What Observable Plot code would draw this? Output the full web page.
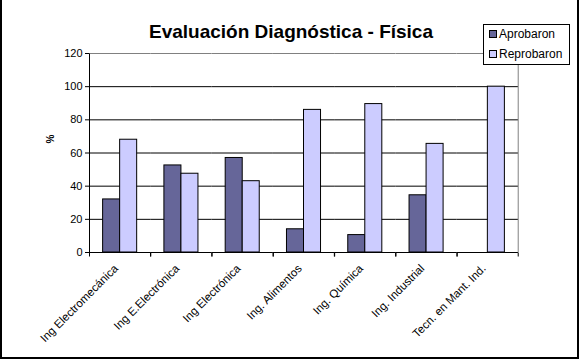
<!DOCTYPE html>
<html>
<head>
<meta charset="utf-8">
<script src="https://cdn.jsdelivr.net/npm/d3@7"></script>
<script src="https://cdn.jsdelivr.net/npm/@observablehq/plot@0.6"></script>
<style>
  html, body { margin: 0; padding: 0; background: #fff; }
  #chart { position: relative; width: 581px; height: 361px; overflow: hidden; font-family: "Liberation Sans", Arial, sans-serif; color: #000; }
  #chart svg { position: absolute; left: 0; top: 0; }
  .ov { position: absolute; }
  #title { left: 0; width: 582px; text-align: center; top: 22px; font-size: 19px; font-weight: bold; line-height: 19px; white-space: nowrap; }
  #legend { left: 483px; top: 24px; width: 87px; height: 41px; box-sizing: border-box; border: 1px solid #000; background: #fff; font-size: 12px; }
  .li { position: absolute; left: 5px; height: 14px; line-height: 14px; white-space: nowrap; }
  .sw { display: inline-block; width: 6px; height: 6px; border: 1px solid #000; margin-right: 2px; vertical-align: 0px; }
  #ylab { left: 44px; top: 133px; width: 14px; height: 12px; font-size: 10px; font-weight: bold; line-height: 12px; text-align: center; transform: rotate(-90deg); }
  .bd { position: absolute; background: #000; }
</style>
</head>
<body>
<div id="chart"></div>
<script>
const titleText = "Evaluación Diagnóstica - Física";
const categories = ["Ing Electromecánica", "Ing E.Electrónica", "Ing Electrónica", "Ing. Alimentos", "Ing. Química", "Ing. Industrial", "Tecn. en Mant. Ind."];
const seriesNames = ["Aprobaron", "Reprobaron"];
const aprobaron = [32, 52.5, 57, 14, 10.5, 34.5, 0];
const reprobaron = [68, 47.5, 43, 86, 89.5, 65.5, 100];
const yTicks = [0, 20, 40, 60, 80, 100, 120];
const colors = ["#666699", "#CCCCFF"];

const data = [];
categories.forEach((c, i) => {
  data.push({cat: c, series: seriesNames[0], value: aprobaron[i]});
  data.push({cat: c, series: seriesNames[1], value: reprobaron[i]});
});

// category boundary ticks, left axis line and right frame line, per facet
const edgeMark = Plot.ruleY(categories, {
  fx: d => d,
  y: () => 0,
  render(index, scales) {
    const g = d3.create("svg:g");
    if (!index.length) return g.node();
    const k = index[0];
    const [xa, xb] = scales.x.range();
    const y0 = Math.round(scales.y(0)) + 0.5;
    const yTop = Math.round(scales.y(yTicks[yTicks.length - 1])) + 0.5;
    const xl = Math.round(xa) + 0.5, xr = Math.round(xb) + 0.5;
    g.append("line").attr("x1", xl).attr("x2", xl).attr("y1", y0).attr("y2", y0 + 4).attr("stroke", "#000");
    g.append("line").attr("x1", xr).attr("x2", xr).attr("y1", y0).attr("y2", y0 + 4).attr("stroke", "#000");
    if (k === 0) g.append("line").attr("x1", xl).attr("x2", xl).attr("y1", yTop).attr("y2", y0).attr("stroke", "#000");
    if (k === categories.length - 1) g.append("line").attr("x1", xr).attr("x2", xr).attr("y1", yTop).attr("y2", y0).attr("stroke", "#808080");
    return g.node();
  }
});

const plot = Plot.plot({
  width: 581,
  height: 361,
  marginLeft: 89,
  marginRight: 63,
  marginTop: 53,
  marginBottom: 109,
  style: {background: "transparent", fontFamily: "Liberation Sans, Arial, sans-serif", color: "#000", overflow: "visible"},
  fx: {domain: categories, padding: 0, round: false, label: null},
  x: {domain: seriesNames, paddingInner: 0, paddingOuter: 0.8, round: false, axis: null},
  y: {domain: [0, 120], label: null},
  color: {domain: seriesNames, range: colors},
  marks: [
    Plot.ruleY(yTicks.filter(t => t > 0 && t < 120), {stroke: "#000"}),
    Plot.ruleY([120], {stroke: "#808080"}),
    Plot.barY(data, {fx: "cat", x: "series", y: "value", fill: "series", stroke: "#000", strokeWidth: 1}),
    Plot.ruleY([0], {stroke: "#000"}),
    edgeMark,
    Plot.axisY({ticks: yTicks, tickSize: 4, tickPadding: 3, fontSize: 11, label: null}),
    Plot.axisFx({anchor: "bottom", tickSize: 0, tickPadding: 14, tickRotate: -45, fontSize: 11.5, dx: -4, label: null})
  ]
});

const chart = document.getElementById("chart");
chart.appendChild(plot);

const t = document.createElement("div");
t.className = "ov"; t.id = "title"; t.textContent = titleText;
chart.appendChild(t);

const lg = document.createElement("div");
lg.className = "ov"; lg.id = "legend";
seriesNames.forEach((s, i) => {
  const it = document.createElement("div");
  it.className = "li";
  it.style.top = (2 + i * 20) + "px";
  const sw = document.createElement("span");
  sw.className = "sw"; sw.style.background = colors[i];
  it.appendChild(sw);
  it.appendChild(document.createTextNode(s));
  lg.appendChild(it);
});
chart.appendChild(lg);

const yl = document.createElement("div");
yl.className = "ov"; yl.id = "ylab"; yl.textContent = "%";
chart.appendChild(yl);

[[0, 0, 2, 359], [577, 0, 2, 359], [0, 357, 579, 2]].forEach(([l, tp, w, h]) => {
  const b = document.createElement("div");
  b.className = "bd";
  Object.assign(b.style, {left: l + "px", top: tp + "px", width: w + "px", height: h + "px"});
  chart.appendChild(b);
});
</script>
</body>
</html>
